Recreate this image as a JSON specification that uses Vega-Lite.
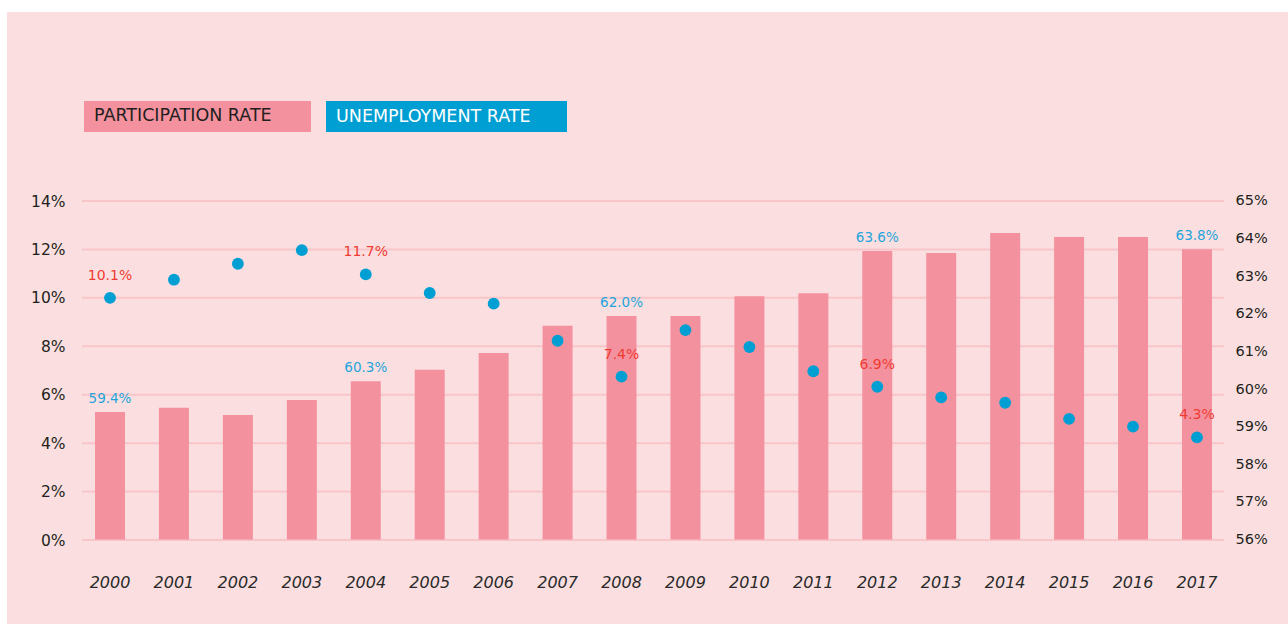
{
  "$schema": "https://vega.github.io/schema/vega-lite/v6.json",
  "width": 1281,
  "height": 612,
  "autosize": {"type": "none"},
  "padding": {"left": 7, "top": 12, "right": 0, "bottom": 0},
  "background": "#ffffff",
  "data": {
    "values": [
      {"year": "2000", "part": 59.39, "unemp": 10.0, "plabel": "59.4%", "ulabel": "10.1%"},
      {"year": "2001", "part": 59.5, "unemp": 10.75},
      {"year": "2002", "part": 59.31, "unemp": 11.41},
      {"year": "2003", "part": 59.71, "unemp": 11.97},
      {"year": "2004", "part": 60.21, "unemp": 10.97, "plabel": "60.3%", "ulabel": "11.7%"},
      {"year": "2005", "part": 60.51, "unemp": 10.2},
      {"year": "2006", "part": 60.96, "unemp": 9.76},
      {"year": "2007", "part": 61.68, "unemp": 8.23},
      {"year": "2008", "part": 61.94, "unemp": 6.75, "plabel": "62.0%", "ulabel": "7.4%"},
      {"year": "2009", "part": 61.94, "unemp": 8.67},
      {"year": "2010", "part": 62.47, "unemp": 7.97},
      {"year": "2011", "part": 62.55, "unemp": 6.97},
      {"year": "2012", "part": 63.67, "unemp": 6.33, "plabel": "63.6%", "ulabel": "6.9%"},
      {"year": "2013", "part": 63.62, "unemp": 5.89},
      {"year": "2014", "part": 64.15, "unemp": 5.67},
      {"year": "2015", "part": 64.04, "unemp": 5.0},
      {"year": "2016", "part": 64.04, "unemp": 4.68},
      {"year": "2017", "part": 63.72, "unemp": 4.24, "plabel": "63.8%", "ulabel": "4.3%"}
    ]
  },
  "layer": [
    {
      "data": {"values": [{"v": 0}, {"v": 2}, {"v": 4}, {"v": 6}, {"v": 8}, {"v": 10}, {"v": 12}, {"v": 14}]},
      "mark": {"type": "rule", "color": "#f8c5c9", "strokeWidth": 2, "xOffset": -28, "x2Offset": 27},
      "encoding": {
        "x": {"datum": "2000", "type": "ordinal", "title": null},
        "x2": {"datum": "2017"},
        "y": {
          "field": "v",
          "type": "quantitative",
          "scale": {"domain": [-3.469, 21.806], "nice": false, "zero": false},
          "axis": {
            "orient": "left",
            "values": [0, 2, 4, 6, 8, 10, 12, 14],
            "labelExpr": "datum.value + '%'",
            "offset": -58,
            "labelPadding": 0,
            "ticks": false,
            "tickSize": 0,
            "domain": false,
            "grid": false,
            "title": null,
            "labelFontSize": 15.5,
            "labelColor": "#231f20",
            "labelAlign": "right",
            "labelBaseline": "middle"
          }
        }
      }
    },
    {
      "layer": [
        {
          "mark": {"type": "bar", "opacity": 1},
          "encoding": {
            "x": {
              "field": "year",
              "type": "ordinal",
              "title": null,
              "scale": {"type": "band", "paddingInner": 0.5308, "paddingOuter": 0.5, "align": 0.5, "round": false, "range": [56.03, 1236.95]}
            },
            "y": {
              "field": "part",
              "type": "quantitative",
              "scale": {"domain": [53.753, 70.025], "nice": false, "zero": false},
              "axis": {
                "orient": "right",
                "values": [56, 57, 58, 59, 60, 61, 62, 63, 64, 65],
                "labelExpr": "datum.value + '%'",
                "offset": -53,
                "labelPadding": 0,
                "ticks": false,
                "tickSize": 0,
                "domain": false,
                "grid": false,
                "title": null,
                "labelFontSize": 14.5,
                "labelColor": "#231f20",
                "labelAlign": "left",
                "labelBaseline": "middle"
              }
            },
            "y2": {"datum": 56},
            "color": {
              "datum": "PARTICIPATION RATE",
              "type": "nominal",
              "scale": {"domain": ["PARTICIPATION RATE", "UNEMPLOYMENT RATE"], "range": ["#f4919e", "#009fd3"]},
              "legend": {
                "orient": "none",
                "legendX": 77,
                "legendY": -9.5,
                "direction": "horizontal",
                "title": null,
                "symbolType": "M-1,-0.1325H1V0.1325H-1Z",
                "symbolSize": 54756,
                "symbolStrokeWidth": 0,
                "symbolOpacity": 1,
                "labelOffset": -217,
                "labelFontSize": 17.5,
                "labelColor": "#231f20",
                "labelLimit": 400,
                "columnPadding": 15,
                "padding": 0,
                "encode": {
                  "symbols": {
                    "update": {
                      "size": {"signal": "datum.label === 'UNEMPLOYMENT RATE' ? 58081 : 51529"},
                      "shape": {"signal": "datum.label === 'UNEMPLOYMENT RATE' ? 'M-1,-0.1286H1V0.1286H-1Z' : 'M-1,-0.1366H1V0.1366H-1Z'"},
                      "x": {"signal": "datum.label === 'UNEMPLOYMENT RATE' ? 120.5 : 113.5"}
                    }
                  },
                  "labels": {"update": {"fill": {"signal": "datum.label === 'UNEMPLOYMENT RATE' ? '#ffffff' : '#231f20'"}}}
                }
              }
            }
          }
        },
        {
          "transform": [{"filter": "datum.plabel != null"}],
          "mark": {"type": "text", "baseline": "alphabetic", "dy": -9, "fontSize": 13.5, "color": "#1fa5db"},
          "encoding": {
            "x": {"field": "year", "type": "ordinal", "title": null},
            "y": {"field": "part", "type": "quantitative"},
            "text": {"field": "plabel"}
          }
        }
      ]
    },
    {
      "layer": [
        {
          "mark": {"type": "circle", "size": 140, "opacity": 1},
          "encoding": {
            "x": {"field": "year", "type": "ordinal", "title": null},
            "y": {
              "field": "unemp",
              "type": "quantitative",
              "scale": {"domain": [-3.469, 21.806], "nice": false, "zero": false},
              "axis": null
            },
            "color": {"datum": "UNEMPLOYMENT RATE", "type": "nominal"}
          }
        },
        {
          "transform": [{"filter": "datum.ulabel != null"}],
          "mark": {"type": "text", "baseline": "middle", "dy": -22, "fontSize": 14, "color": "#ef3b32"},
          "encoding": {
            "x": {"field": "year", "type": "ordinal", "title": null},
            "y": {"field": "unemp", "type": "quantitative"},
            "text": {"field": "ulabel"}
          }
        }
      ]
    }
  ],
  "resolve": {"scale": {"y": "independent"}},
  "config": {
    "font": "DejaVu Sans",
    "view": {"fill": "#fbdfe0", "stroke": null},
    "axisX": {
      "offset": -42,
      "labelPadding": 0,
      "ticks": false,
      "tickSize": 0,
      "domain": false,
      "grid": false,
      "labelAngle": 0,
      "labelBaseline": "middle",
      "labelFontStyle": "italic",
      "labelFontSize": 16,
      "labelColor": "#2a2a2a"
    }
  }
}
